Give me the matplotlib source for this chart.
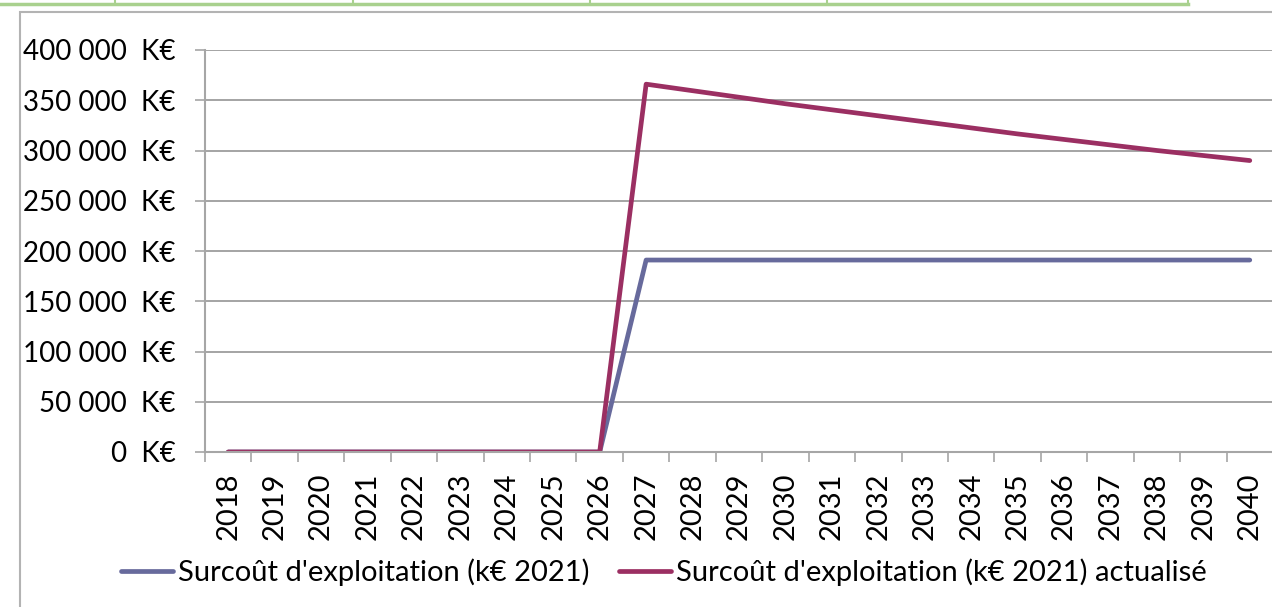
import matplotlib.pyplot as plt
from matplotlib.lines import Line2D
from matplotlib.patches import Rectangle
from matplotlib.ticker import FuncFormatter, FixedLocator

plt.rcParams['font.family'] = ['Lato', 'DejaVu Sans']

years = [2018, 2019, 2020, 2021, 2022, 2023, 2024, 2025, 2026, 2027, 2028, 2029,
         2030, 2031, 2032, 2033, 2034, 2035, 2036, 2037, 2038, 2039, 2040]
surcout = [0, 0, 0, 0, 0, 0, 0, 0, 0,
           191000, 191000, 191000, 191000, 191000, 191000, 191000,
           191000, 191000, 191000, 191000, 191000, 191000, 191000]
surcout_actu = [0, 0, 0, 0, 0, 0, 0, 0, 0,
                366000, 359500, 353000, 346500, 340500, 334500, 328500,
                322500, 316500, 311000, 305500, 300000, 295000, 290000]
labels = ["Surcoût d'exploitation (k€ 2021)",
          "Surcoût d'exploitation (k€ 2021) actualisé"]

fs = 21
fig = plt.figure(figsize=(12.72, 6.07), dpi=100)
ax = fig.add_axes([205 / 1272, 1 - 452 / 607, 1068 / 1272, 402 / 607])

x = list(range(len(years)))
ax.plot(x, surcout, color='#676a9c', lw=3.4, solid_capstyle='round', label=labels[0])
ax.plot(x, surcout_actu, color='#9b2f62', lw=3.4, solid_capstyle='round', label=labels[1])

ax.set_xlim(-0.5, len(years) - 0.5)
ax.set_ylim(0, 400000)
ax.set_yticks(range(0, 400001, 50000))
ax.yaxis.set_major_formatter(FuncFormatter(lambda v, p: f"{v:,.0f}".replace(",", " ") + "  K€"))
ax.grid(axis='y', color='#8c8c8c', lw=1.1)
ax.set_axisbelow(True)

ax.set_xticks(x)
ax.set_xticklabels([str(y) for y in years], rotation=90)
ax.xaxis.set_minor_locator(FixedLocator([i - 0.5 for i in range(len(years) + 1)]))
ax.tick_params(axis='x', which='major', length=0, pad=15, labelsize=fs)
ax.tick_params(axis='x', which='minor', length=7, width=1.2, color='#a6a6a6', direction='out')
ax.tick_params(axis='y', length=7, width=1.2, color='#a6a6a6', pad=14, labelsize=20)

for s in ['top', 'right']:
    ax.spines[s].set_visible(False)
for s in ['left', 'bottom']:
    ax.spines[s].set_color('#a6a6a6')
    ax.spines[s].set_linewidth(1.5)

fig.legend(loc='center', bbox_to_anchor=(0.522, 1 - 572 / 607), ncol=2, frameon=False,
           fontsize=fs, handlelength=1.8, handletextpad=0.17, columnspacing=1.0)

# chart frame and worksheet cell borders
fig.add_artist(Rectangle((20 / 1272, -0.1), 1.2, 1 - 12 / 607 + 0.1, transform=fig.transFigure,
                         fill=False, edgecolor='#b3b3b3', lw=1.5))
fig.add_artist(Line2D([0, 1188 / 1272], [1 - 4 / 607] * 2, color='#a9d18e', lw=2.5))
for gx in [115, 353, 590, 827, 1188]:
    fig.add_artist(Line2D([gx / 1272] * 2, [1 - 4 / 607, 1], color='#a9d18e', lw=1.5))

fig.savefig('out.png', dpi=100)
